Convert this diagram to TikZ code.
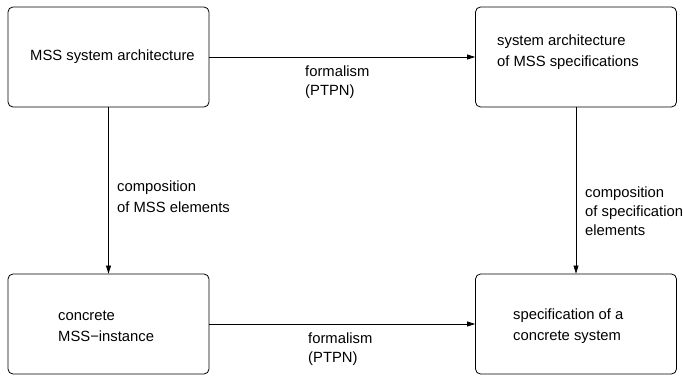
\documentclass[tikz,border=0pt]{standalone}
\usepackage{fontspec}
\setmainfont{Liberation Sans}
\usetikzlibrary{arrows.meta}

\tikzset{
  blk/.style={draw, rounded corners=5pt, minimum width=201pt, minimum height=100pt, line width=0.8pt, inner sep=0pt},
  arr/.style={-{Triangle[length=8pt,width=5pt]}, line width=0.7pt},
  txt/.style={anchor=west, align=left, inner sep=0pt, font=\fontsize{14.8}{21}\selectfont},
  lbl/.style={anchor=west, align=left, inner sep=0pt, font=\fontsize{14.8}{19}\selectfont}
}

\begin{document}
\begin{tikzpicture}[x=1pt,y=-1pt]
  \useasboundingbox (0,0) rectangle (683,377);
  % boxes
  \node[blk] (arch) at (108.5,57) {};
  \node[blk] (spec) at (576,57) {};
  \node[blk] (inst) at (108.5,324) {};
  \node[blk] (conc) at (576,324) {};
  %%
  \node[txt] (archtxt) at (30,57) {MSS system architecture};
  \node[txt] (spectxt) at (497,52) {system architecture\\of MSS specifications};
  \node[txt] (insttxt) at (58,326) {concrete\\MSS−instance};
  \node[txt] (conctxt) at (513,326) {specification of a\\concrete system};
  % arrows
  \draw[arr] (arch) -- (spec);
  \draw[arr] (inst) -- (conc);
  \draw[arr] (arch) -- (inst);
  \draw[arr] (spec) -- (conc);
  %%
  \node[lbl] (formtop) at (305,82) {formalism\\(PTPN)};
  \node[lbl] (formbot) at (308,349) {formalism\\(PTPN)};
  \node[txt] (compl) at (117,197) {composition\\of MSS elements};
  \node[lbl] (compr) at (585,211) {composition\\of specification\\elements};
\end{tikzpicture}
\end{document}
